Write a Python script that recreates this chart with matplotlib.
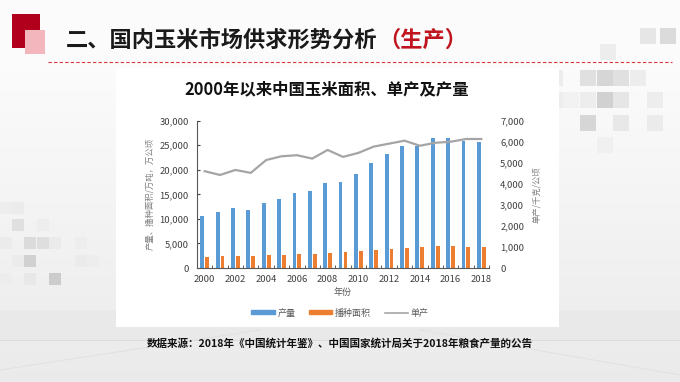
import numpy as np
import matplotlib
matplotlib.use("Agg")
import matplotlib.pyplot as plt
from matplotlib.patches import Rectangle
from matplotlib.lines import Line2D
from matplotlib.ticker import FuncFormatter

plt.rcParams['font.family'] = ['Noto Sans CJK SC', 'DejaVu Sans']

# data
years = list(range(2000, 2019))
output = [10600, 11500, 12300, 11800, 13300, 14100, 15300, 15700, 17400, 17500,
          19200, 21300, 23200, 24900, 24900, 26500, 26400, 25900, 25700]
area = [2300, 2430, 2460, 2410, 2550, 2640, 2850, 2950, 3100, 3250,
        3500, 3650, 3910, 4130, 4300, 4500, 4420, 4240, 4210]
yields = [4600, 4420, 4660, 4520, 5130, 5310, 5360, 5200, 5610, 5280,
          5470, 5770, 5910, 6050, 5810, 5950, 6000, 6130, 6130]
tick_years = [str(y) for y in years[::2]]

W, H = 680, 382


def box(x0, y0, x1, y1):
    # pixel box (top-left origin) -> figure fraction rect
    return [x0 / W, 1 - y1 / H, (x1 - x0) / W, (y1 - y0) / H]


fig = plt.figure(figsize=(W / 100, H / 100), dpi=100)

# slide background
bg = fig.add_axes([0, 0, 1, 1], zorder=-5)
grad = np.linspace(0, 1, 200)[:, None]
shade = np.where(grad < 0.18, 0.985, 0.985 - (grad - 0.18) * 0.08)
bg.imshow(np.dstack([shade, shade, shade]), extent=[0, W, H, 0], aspect='auto')
bg.set_xlim(0, W)
bg.set_ylim(H, 0)
bg.axis('off')

squares = [
    (640, 28, 0.90), (660, 28, 0.86), (600, 44, 0.93),
    (547, 70, 0.93), (580, 70, 0.88), (597, 70, 0.84), (613, 70, 0.88), (630, 70, 0.93),
    (530, 92, 0.94), (547, 92, 0.93), (563, 92, 0.95), (580, 92, 0.93), (597, 92, 0.82),
    (613, 92, 0.90), (647, 92, 0.93),
    (580, 115, 0.84), (613, 115, 0.91), (647, 115, 0.92),
    (597, 137, 0.94),
    (0, 202, 0.93), (12, 202, 0.92), (12, 219, 0.88), (37, 219, 0.93),
    (0, 237, 0.92), (24, 237, 0.86), (37, 237, 0.87), (49, 237, 0.92), (75, 237, 0.93),
    (12, 255, 0.92), (24, 255, 0.82), (75, 255, 0.92), (87, 255, 0.93),
    (0, 273, 0.93), (24, 273, 0.91), (49, 273, 0.80),
]
for sx, sy, g in squares:
    s = 16 if sx > 500 else 12
    bg.add_patch(Rectangle((sx, sy), s, s, color=(g, g, g), lw=0))

# floor band
bg.add_patch(Rectangle((0, 310), W, 30, color=(0.915, 0.915, 0.915), lw=0))
bg.plot([0, W], [340, 340], color='#dcdcdc', lw=0.8)
bg.plot([0, 260], [370, 330], color='#e2e2e2', lw=0.8)
bg.plot([420, W], [330, 375], color='#e2e2e2', lw=0.8)

# red squares and title
bg.add_patch(Rectangle((12, 14), 28, 34, color='#b0001c', lw=0))
bg.add_patch(Rectangle((25, 30), 20, 24, color='#f4b6bd', lw=0))
t1 = bg.text(66, 40, '二、国内玉米市场供求形势分析', fontsize=16, fontweight='bold',
             color='#1a1a1a', va='center', ha='left')
fig.canvas.draw()
ext = t1.get_window_extent()
x_end = ext.x1  # pixels from left
bg.text(x_end + 1, 40, '（生产）', fontsize=16, fontweight='bold',
        color='#c0141e', va='center', ha='left')
bg.plot([48, 672], [62, 62], color='#d9343c', lw=0.8, ls=(0, (3, 2)))

# white chart panel
bg.add_patch(Rectangle((116, 68), 443, 259, color='white', lw=0))
bg.text(327, 89, '2000年以来中国玉米面积、单产及产量', fontsize=11.8, fontweight='bold',
        color='#111111', ha='center', va='center')
bg.text(340, 343, '数据来源：2018年《中国统计年鉴》、中国国家统计局关于2018年粮食产量的公告',
        fontsize=7.6, fontweight='bold', color='#111111', ha='center', va='center')

# chart
ax = fig.add_axes(box(197, 120.7, 489, 268))
x = np.arange(len(years))
ax.bar(x - 0.16, output, width=0.25, color='#5b9bd5', zorder=2)
ax.bar(x + 0.16, area, width=0.25, color='#ed7d31', zorder=2)
ax.set_xlim(-0.5, len(years) - 0.5)
ax.set_ylim(0, 30000)
ax.set_yticks(range(0, 30001, 5000))
ax.yaxis.set_major_formatter(FuncFormatter(lambda v, p: f'{int(v):,}'))
ax.set_xticks(x[::2])
ax.set_xticklabels(tick_years)
ax.set_xticks(np.arange(-0.5, len(years), 1), minor=True)
ax.tick_params(axis='x', which='major', length=0, labelsize=6.8, colors='#404040', pad=5)
ax.tick_params(axis='x', which='minor', length=2, direction='in', color='#404040')
ax.tick_params(axis='y', length=2, direction='in', labelsize=6.8, colors='#404040', pad=6)
for side in ['top', 'right']:
    ax.spines[side].set_visible(False)
ax.spines['left'].set_color('#595959')
ax.spines['bottom'].set_color('#595959')
ax.set_facecolor('none')
ax.set_xlabel('年份', fontsize=6.5, color='#595959', labelpad=3)
ax.set_ylabel('产量、播种面积/万吨，万公顷', fontsize=6, color='#7f7f7f', labelpad=4)

ax2 = ax.twinx()
ax2.plot(x, yields, color='#a5a5a5', lw=1.6, zorder=3)
ax2.set_ylim(0, 7000)
ax2.set_yticks(range(0, 7001, 1000))
ax2.yaxis.set_major_formatter(FuncFormatter(lambda v, p: f'{int(v):,}'))
ax2.tick_params(axis='y', length=0, labelsize=6.8, colors='#404040', pad=8)
for side in ['top', 'right', 'left', 'bottom']:
    ax2.spines[side].set_visible(False)
ax2.set_ylabel('单产/千克/公顷', fontsize=6, color='#7f7f7f', labelpad=6)

handles = [
    Rectangle((0, 0), 1, 1, color='#5b9bd5'),
    Rectangle((0, 0), 1, 1, color='#ed7d31'),
    Line2D([0], [0], color='#a5a5a5', lw=1.2),
]
leg = fig.legend(handles, ['产量', '播种面积', '单产'], loc='center',
                 bbox_to_anchor=(340 / W, 1 - 313 / H), ncol=3, frameon=False,
                 fontsize=6.5, handlelength=2.6, handleheight=0.35,
                 columnspacing=1.5, handletextpad=0.3)
for t in leg.get_texts():
    t.set_color('#595959')

fig.savefig('out.png', dpi=100)
